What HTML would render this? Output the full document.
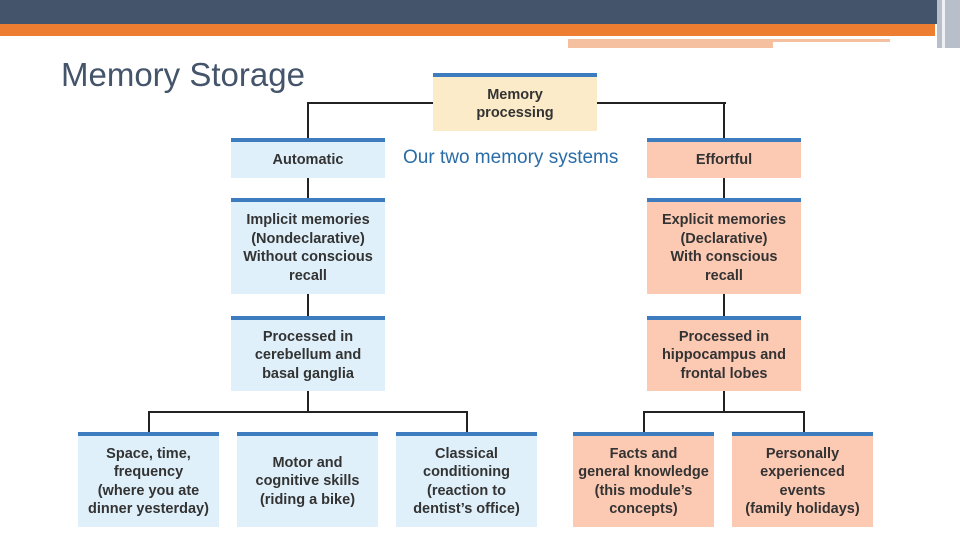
<!DOCTYPE html>
<html><head><meta charset="utf-8"><style>
body{margin:0;width:960px;height:540px;overflow:hidden;background:#fff;font-family:"Liberation Sans",sans-serif;position:relative}
.a{position:absolute}
.b{position:absolute;box-sizing:border-box;border-top:4px solid #3d7cbf;display:flex;align-items:center;justify-content:center;text-align:center;font-family:"Liberation Sans",sans-serif;font-weight:bold;font-size:14.5px;line-height:18.5px;color:#333;white-space:nowrap}
.bl{background:#dff0fa}.or{background:#fcc9b3}
.h{position:absolute;height:2px;background:#222}.v{position:absolute;width:2px;background:#222}
</style></head><body>
<div class="a" style="left:0;top:0;width:960px;height:24px;background:#44546a"></div>
<div class="a" style="left:0;top:24px;width:935px;height:12px;background:#ed7d31"></div>
<div class="a" style="left:937px;top:0;width:23px;height:48px;background:#b9bfca"></div>
<div class="a" style="left:942px;top:0;width:3px;height:48px;background:#eef0f3"></div>
<div class="a" style="left:568px;top:39px;width:322px;height:3px;background:#f4c0a0"></div>
<div class="a" style="left:568px;top:42px;width:205px;height:6px;background:#f4c0a0"></div>
<div class="a" style="left:61px;top:56px;font-size:33px;color:#44546a">Memory Storage</div>
<div class="h" style="left:308px;top:102px;width:418px"></div>
<div class="v" style="left:307px;top:102px;height:36px"></div>
<div class="v" style="left:723px;top:102px;height:36px"></div>
<div class="v" style="left:307px;top:178px;height:140px"></div>
<div class="v" style="left:723px;top:178px;height:140px"></div>
<div class="v" style="left:307px;top:391px;height:21px"></div>
<div class="v" style="left:723px;top:391px;height:21px"></div>
<div class="h" style="left:148px;top:411px;width:320px"></div>
<div class="h" style="left:643px;top:411px;width:162px"></div>
<div class="v" style="left:148px;top:411px;height:21px"></div>
<div class="v" style="left:466px;top:411px;height:21px"></div>
<div class="v" style="left:643px;top:411px;height:21px"></div>
<div class="v" style="left:803px;top:411px;height:21px"></div>
<div class="b" style="left:433px;top:73px;width:164px;height:58px;background:#fcebc9">Memory<br>processing</div>
<div class="a" style="left:403px;top:147px;font-size:19px;color:#2a6ca7">Our two memory systems</div>
<div class="b bl" style="left:231px;top:138px;width:154px;height:40px">Automatic</div>
<div class="b or" style="left:647px;top:138px;width:154px;height:40px">Effortful</div>
<div class="b bl" style="left:231px;top:198px;width:154px;height:96px">Implicit memories<br>(Nondeclarative)<br>Without conscious<br>recall</div>
<div class="b or" style="left:647px;top:198px;width:154px;height:96px">Explicit memories<br>(Declarative)<br>With conscious<br>recall</div>
<div class="b bl" style="left:231px;top:316px;width:154px;height:75px">Processed in<br>cerebellum and<br>basal ganglia</div>
<div class="b or" style="left:647px;top:316px;width:154px;height:75px">Processed in<br>hippocampus and<br>frontal lobes</div>
<div class="b bl" style="left:78px;top:432px;width:141px;height:95px">Space, time,<br>frequency<br>(where you ate<br>dinner yesterday)</div>
<div class="b bl" style="left:237px;top:432px;width:141px;height:95px">Motor and<br>cognitive skills<br>(riding a bike)</div>
<div class="b bl" style="left:396px;top:432px;width:141px;height:95px">Classical<br>conditioning<br>(reaction to<br>dentist’s office)</div>
<div class="b or" style="left:573px;top:432px;width:141px;height:95px">Facts and<br>general knowledge<br>(this module’s<br>concepts)</div>
<div class="b or" style="left:732px;top:432px;width:141px;height:95px">Personally<br>experienced<br>events<br>(family holidays)</div>
</body></html>
